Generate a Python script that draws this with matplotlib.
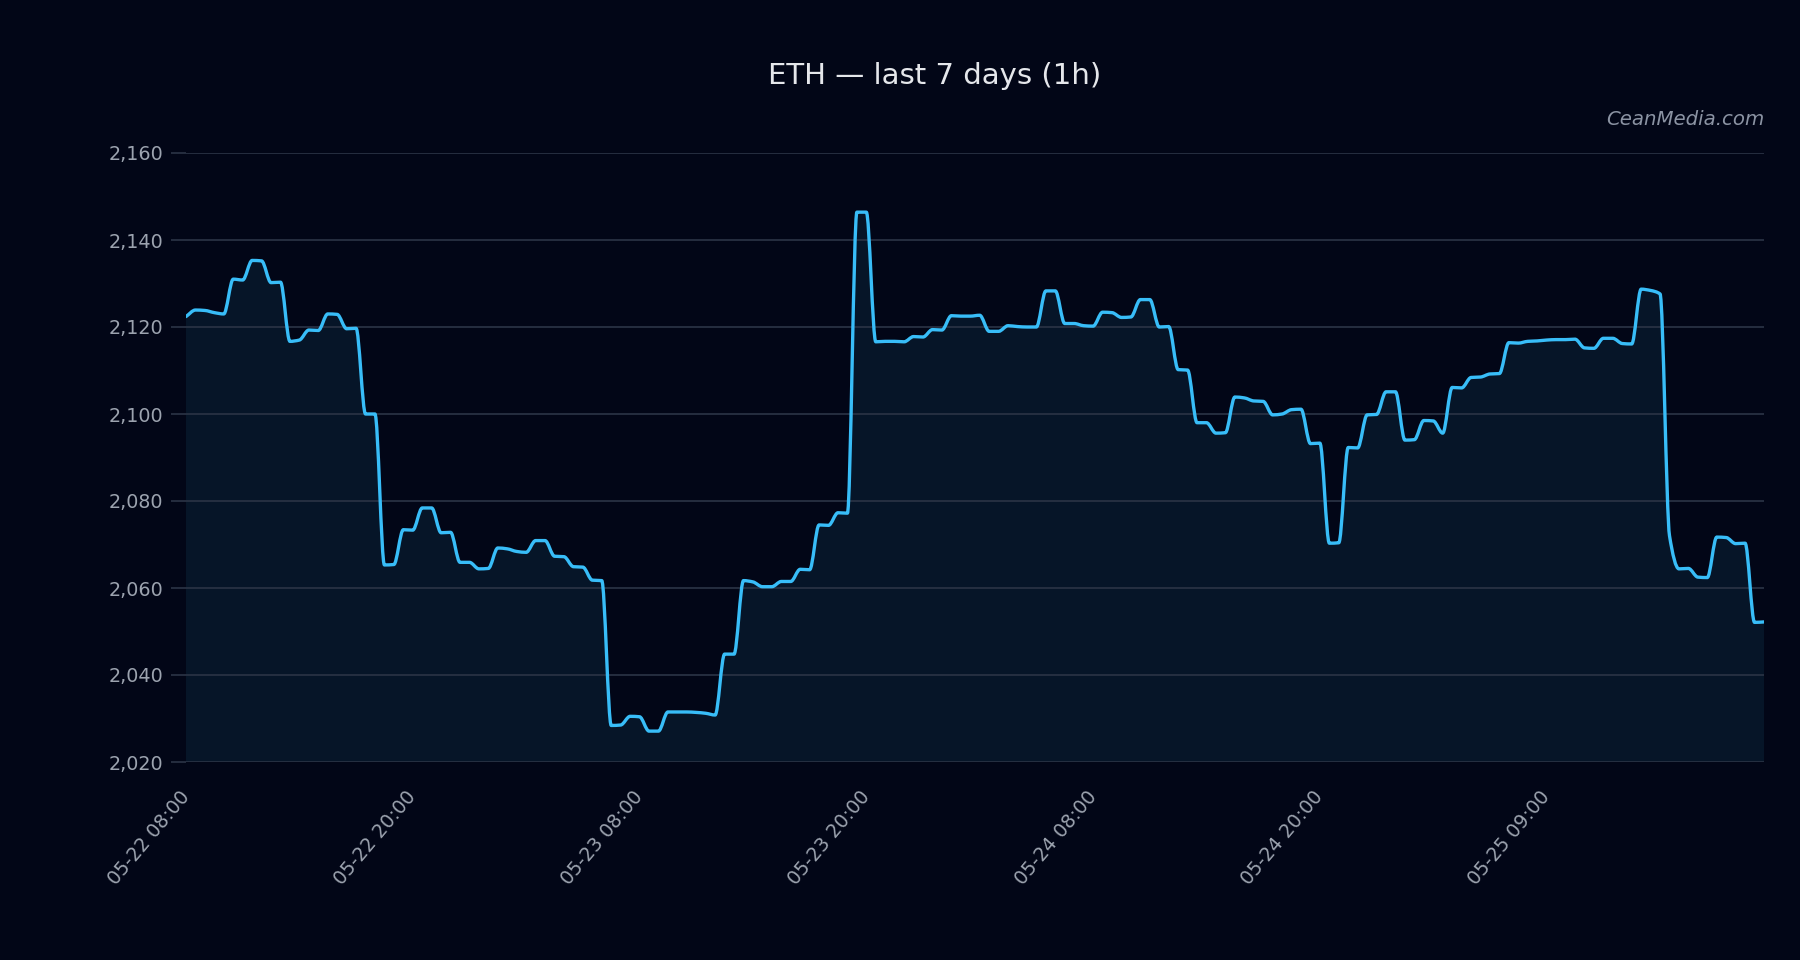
import numpy as np
import matplotlib
matplotlib.use("Agg")
import matplotlib.pyplot as plt
from matplotlib.path import Path
from matplotlib.patches import PathPatch
from matplotlib.ticker import FuncFormatter

# ETH close, 168 samples
eth_close = [
    2122.4,
    2123.9, 2123.8, 2123.3, 2123.0, 2131.0, 2130.8, 2135.3, 2135.2,
    2130.2, 2130.3, 2116.7, 2117.0, 2119.3, 2119.2, 2123.0, 2122.9,
    2119.6, 2119.7, 2100.0, 2100.0, 2065.3, 2065.4, 2073.4, 2073.3,
    2078.4, 2078.4, 2072.7, 2072.8, 2065.9, 2065.9, 2064.4, 2064.5,
    2069.2, 2069.0, 2068.4, 2068.2, 2070.9, 2070.9, 2067.3, 2067.2,
    2064.9, 2064.8, 2061.8, 2061.7, 2028.4, 2028.5, 2030.5, 2030.4,
    2027.1, 2027.1, 2031.5, 2031.5, 2031.5, 2031.4, 2031.2, 2030.8,
    2044.8, 2044.8, 2061.7, 2061.4, 2060.3, 2060.3, 2061.5, 2061.5,
    2064.3, 2064.2, 2074.5, 2074.4, 2077.3, 2077.2, 2146.4, 2146.4,
    2116.6, 2116.7, 2116.7, 2116.6, 2117.8, 2117.7, 2119.4, 2119.3,
    2122.6, 2122.5, 2122.5, 2122.7, 2119.0, 2119.0, 2120.3, 2120.1,
    2120.0, 2120.0, 2128.3, 2128.3, 2120.8, 2120.8, 2120.3, 2120.2,
    2123.4, 2123.3, 2122.2, 2122.3, 2126.3, 2126.3, 2120.0, 2120.1,
    2110.2, 2110.1, 2098.0, 2098.0, 2095.6, 2095.7, 2103.9, 2103.7,
    2103.0, 2102.9, 2099.8, 2100.0, 2101.0, 2101.1, 2093.2, 2093.3,
    2070.3, 2070.4, 2092.3, 2092.2, 2099.8, 2099.9, 2105.1, 2105.1,
    2094.0, 2094.1, 2098.5, 2098.4,
    2095.6,
    2106.1, 2106.0, 2108.4, 2108.5, 2109.2, 2109.3, 2116.4, 2116.3,
    2116.7, 2116.8, 2117.0, 2117.1, 2117.1, 2117.2, 2115.2, 2115.1,
    2117.4, 2117.4, 2116.2, 2116.1, 2128.7, 2128.4,
    2127.6, 2072.0,
    2064.4, 2064.5, 2062.5, 2062.4, 2071.7, 2071.6, 2070.2, 2070.3,
    2052.1, 2052.2,
]
tick_labels = ["05-22 08:00", "05-22 20:00", "05-23 08:00", "05-23 20:00",
               "05-24 08:00", "05-24 20:00", "05-25 09:00"]
tick_every = 24
y_ticks = list(range(2020, 2161, 20))

BG = "#020617"
LINE = "#38bdf8"

price = np.array(eth_close)
x = np.arange(len(price))

# monotone cubic (Fritsch-Carlson) tangents -> bezier path
d = np.diff(price)
m = np.zeros_like(price)
m[0], m[-1] = d[0], d[-1]
for i in range(1, len(price) - 1):
    if d[i - 1] * d[i] > 0:
        m[i] = 2.0 / (1.0 / d[i - 1] + 1.0 / d[i])

verts = [(x[0], price[0])]
codes = [Path.MOVETO]
for i in range(len(price) - 1):
    verts += [(x[i] + 1 / 3, price[i] + m[i] / 3),
              (x[i + 1] - 1 / 3, price[i + 1] - m[i + 1] / 3),
              (x[i + 1], price[i + 1])]
    codes += [Path.CURVE4] * 3

ylo, yhi = y_ticks[0], y_ticks[-1]
fill_verts = verts + [(x[-1], ylo), (x[0], ylo), (x[0], price[0])]
fill_codes = codes + [Path.LINETO, Path.LINETO, Path.CLOSEPOLY]

fig = plt.figure(figsize=(12, 6.4), dpi=150, facecolor=BG)
ax = fig.add_axes([186 / 1800, 1 - 762 / 960, 1578 / 1800, 609 / 960])
ax.set_facecolor(BG)

ax.add_patch(PathPatch(Path(fill_verts, fill_codes), facecolor="#061528",
                       edgecolor="none", zorder=0.2))
ax.add_patch(PathPatch(Path(verts, codes), facecolor="none", edgecolor=LINE,
                       lw=1.6, zorder=3, capstyle="round", joinstyle="round"))

ax.set_xlim(x[0], x[-1])
ax.set_ylim(ylo, yhi)
ax.set_yticks(y_ticks)
ax.yaxis.set_major_formatter(FuncFormatter(lambda v, p: f"{v:,.0f}"))
ax.set_xticks(x[::tick_every])
ax.set_xticklabels(tick_labels, rotation=50, ha="right", va="center",
                   rotation_mode="anchor")

ax.set_axisbelow(True)
ax.grid(axis="y", color="#2b3446", lw=0.8)
for s in ax.spines.values():
    s.set_visible(False)
ax.tick_params(axis="y", length=7, width=0.8, color="#2b3446", pad=4,
               labelcolor="#9ca3af", labelsize=9.2)
ax.tick_params(axis="x", length=0, pad=15, labelcolor="#9ca3af", labelsize=9.2)

fig.text(0.519, 0.921, "ETH — last 7 days (1h)", color="#e5e7eb", fontsize=14,
         ha="center", va="center")
ax.text(1.0, 1.055, "CeanMedia.com", transform=ax.transAxes, ha="right",
        va="center", color="#8b93a3", fontsize=9.5, style="italic")

fig.savefig("out.png", dpi=150, facecolor=BG)
